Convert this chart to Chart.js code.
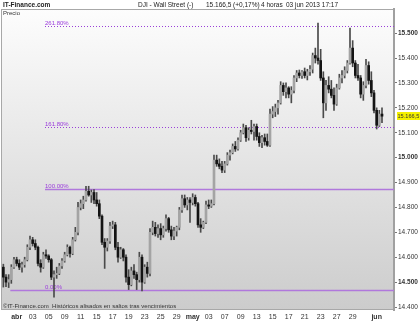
<!DOCTYPE html>
<html>
<head>
<meta charset="utf-8">
<script src="https://cdn.jsdelivr.net/npm/chart.js@4.4.0/dist/chart.umd.min.js"></script>
<style>
  html, body { margin: 0; padding: 0; background: #fff; }
  #wrap { width: 420px; height: 321px; }
</style>
</head>
<body>
<div id="wrap"><canvas id="grafico" width="420" height="321"></canvas></div>
<script>
// dias de cotizacion (el primero solo tiene 2 velas)
const dias = ['27 mar', '28 mar',
  '01 abr', '02 abr', '03 abr', '04 abr', '05 abr', '08 abr', '09 abr', '10 abr', '11 abr', '12 abr',
  '15 abr', '16 abr', '17 abr', '18 abr', '19 abr', '22 abr', '23 abr', '24 abr', '25 abr', '26 abr',
  '29 abr', '30 abr', '01 may', '02 may', '03 may', '06 may', '07 may', '08 may', '09 may', '10 may',
  '13 may', '14 may', '15 may', '16 may', '17 may', '20 may', '21 may', '22 may', '23 may', '24 may',
  '27 may', '28 may', '29 may', '30 may', '31 may', '03 jun'];

// velas de 4 horas
const apertura = [
  14560, 14520,
  14500, 14510, 14560,
  14590, 14575, 14560,  14570, 14590, 14640,  14670, 14655, 14640,  14575, 14560, 14610,  14605, 14590, 14520,
  14530, 14535, 14565,  14585, 14610, 14640,  14615, 14670, 14700,  14800, 14815, 14830,  14865, 14850, 14860,
  14830, 14815, 14765,  14660, 14640, 14665,  14725, 14730, 14640,  14600, 14630, 14600,  14520, 14490, 14545,
  14530, 14510, 14600,  14500, 14560, 14535,  14700, 14720, 14695,  14715, 14690, 14715,  14755, 14710, 14685,
  14705, 14720, 14790,  14835, 14810, 14830,  14820, 14840, 14815,  14730, 14720, 14740,  14810, 14805, 14815,
  14990, 14975, 14965,  14950, 14975, 15010,  15020, 15045, 15035,  15070, 15100, 15120,  15080, 15110, 15105,
  15125, 15085, 15060,  15080, 15065, 15050,  15175, 15185, 15200,  15220, 15290, 15265,  15280, 15255, 15270,
  15320, 15340, 15330,  15345, 15330, 15345,  15355, 15410, 15400,  15390, 15320, 15220,  15290, 15275, 15250,
  15215, 15280, 15320,  15330, 15350, 15380,  15440, 15380, 15330,  15320, 15255, 15290,  15370, 15310, 15260,
  15190, 15130, 15175];
const maximo = [
  14572, 14530,
  14530, 14570, 14600,
  14600, 14590, 14580,  14600, 14650, 14685,  14680, 14670, 14645,  14590, 14620, 14630,  14610, 14595, 14545,
  14560, 14575, 14595,  14620, 14650, 14645,  14680, 14720, 14820,  14830, 14845, 14885,  14885, 14870, 14872,
  14860, 14830, 14770,  14675, 14675, 14740,  14745, 14740, 14660,  14640, 14635, 14610,  14550, 14560, 14570,
  14540, 14620, 14610,  14570, 14580, 14715,  14745, 14740, 14730,  14735, 14725, 14770,  14760, 14725, 14720,
  14725, 14800, 14850,  14850, 14840, 14840,  14855, 14850, 14820,  14755, 14745, 14825,  14830, 14830, 15010,
  15010, 14995, 14985,  14985, 15020, 15030,  15055, 15065, 15080,  15110, 15135, 15130,  15120, 15150, 15135,
  15135, 15100, 15090,  15095, 15095, 15195,  15205, 15215, 15230,  15305, 15300, 15300,  15285, 15285, 15330,
  15350, 15352, 15350,  15360, 15355, 15370,  15420, 15440, 15540,  15435, 15345, 15310,  15325, 15310, 15280,
  15295, 15335, 15350,  15365, 15390, 15520,  15470, 15390, 15375,  15330, 15305, 15395,  15385, 15345, 15270,
  15200, 15190, 15200];
const minimo = [
  14480, 14482,
  14478, 14495, 14555,
  14565, 14550, 14540,  14560, 14585, 14630,  14645, 14630, 14565,  14540, 14555, 14595,  14580, 14510, 14440,
  14515, 14530, 14555,  14580, 14605, 14600,  14610, 14665, 14690,  14790, 14795, 14825,  14845, 14820, 14815,
  14805, 14755, 14650,  14555, 14625, 14655,  14715, 14630, 14580,  14595, 14585, 14500,  14470, 14485, 14515,
  14470, 14500, 14465,  14495, 14520, 14525,  14690, 14685, 14680,  14670, 14680, 14705,  14700, 14670, 14670,
  14685, 14710, 14780,  14800, 14790, 14740,  14810, 14805, 14720,  14700, 14715, 14735,  14795, 14800, 14810,
  14965, 14955, 14940,  14940, 14970, 14990,  15015, 15025, 15030,  15065, 15095, 15065,  15070, 15095, 15070,
  15070, 15045, 15040,  15050, 15045, 15045,  15160, 15165, 15175,  15215, 15250, 15240,  15240, 15220, 15260,
  15305, 15320, 15318,  15320, 15312, 15330,  15340, 15380, 15375,  15310, 15160, 15190,  15260, 15240, 15190,
  15210, 15275, 15300,  15320, 15340, 15375,  15365, 15320, 15310,  15240, 15230, 15280,  15295, 15245, 15180,
  15115, 15125, 15140];
const cierre = [
  14520, 14500,
  14510, 14560, 14590,
  14575, 14560, 14570,  14590, 14640, 14670,  14655, 14640, 14575,  14560, 14610, 14605,  14590, 14520, 14530,
  14535, 14565, 14585,  14610, 14640, 14615,  14670, 14700, 14800,  14815, 14830, 14865,  14850, 14860, 14830,
  14815, 14765, 14660,  14640, 14665, 14725,  14730, 14640, 14600,  14630, 14600, 14520,  14490, 14545, 14530,
  14510, 14600, 14500,  14560, 14535, 14700,  14720, 14695, 14715,  14690, 14715, 14755,  14710, 14685, 14705,
  14720, 14790, 14835,  14810, 14830, 14820,  14840, 14815, 14730,  14720, 14740, 14810,  14805, 14815, 14990,
  14975, 14965, 14950,  14975, 15010, 15020,  15045, 15035, 15070,  15100, 15120, 15080,  15110, 15105, 15125,
  15085, 15060, 15080,  15065, 15050, 15175,  15185, 15200, 15220,  15290, 15265, 15280,  15255, 15270, 15320,
  15340, 15330, 15345,  15330, 15345, 15355,  15410, 15400, 15390,  15320, 15220, 15290,  15275, 15250, 15215,
  15280, 15320, 15330,  15350, 15380, 15440,  15380, 15330, 15320,  15255, 15290, 15370,  15310, 15260, 15190,
  15130, 15175, 15166.5];

// retroceso de Fibonacci
const fibMinimo = 14470;
const fibMaximo = 14874;
const fibNiveles = [0, 100, 161.8, 261.8];
const fibTextos = ['0.00%', '100.00%', '161.80%', '261.80%'];
const fibDesde = [3, 16, 16, 16];
const fibPunteado = [false, false, true, true];

// ejes
const marcasY = [14400, 14500, 14600, 14700, 14800, 14900, 15000, 15100, 15200, 15300, 15400, 15500];
const marcasX = ['01 abr', '03 abr', '05 abr', '09 abr', '11 abr', '15 abr', '17 abr', '19 abr', '23 abr', '25 abr',
  '29 abr', '01 may', '03 may', '07 may', '09 may', '13 may', '15 may', '17 may', '21 may', '23 may', '27 may',
  '29 may', '03 jun'];
const textosX = ['abr', '03', '05', '09', '11', '15', '17', '19', '23', '25', '29', 'may', '03', '07', '09', '13',
  '15', '17', '21', '23', '27', '29', 'jun'];
const meses = ['abr', 'may', 'jun'];
const huecoDerecha = 4;

const FUENTE = "'Liberation Sans', Arial, sans-serif";

function formatoMiles(v, dec) {
  const partes = v.toFixed(dec).split('.');
  const ent = partes[0].replace(/\B(?=(\d{3})+(?!\d))/g, '.');
  return partes.length > 1 ? ent + ',' + partes[1] : ent;
}

// etiquetas de cada vela
const etiquetas = [];
dias.forEach((d, i) => {
  const n = i === 0 ? 2 : 3;
  for (let k = 0; k < n; k++) etiquetas.push(k === 0 ? d : d + ' ' + k);
});
for (let k = 0; k < huecoDerecha; k++) etiquetas.push('vacio ' + k);

const mechas = etiquetas.map((_, i) => i < cierre.length ? [minimo[i], maximo[i]] : null);
const cuerpos = etiquetas.map((_, i) => i < cierre.length ? [apertura[i], cierre[i]] : null);
const coloresCuerpo = etiquetas.map((_, i) => cierre[i] >= apertura[i] ? '#a4a4a4' : '#141414');

const fondoPlugin = {
  id: 'fondo',
  beforeDraw(chart) {
    const { ctx, chartArea: a } = chart;
    ctx.save();
    ctx.fillStyle = '#ffffff';
    ctx.fillRect(0, 0, chart.width, chart.height);
    const g = ctx.createLinearGradient(0, a.top, 0, a.bottom);
    g.addColorStop(0, '#fdfdfd');
    g.addColorStop(1, '#cccccc');
    ctx.fillStyle = g;
    ctx.fillRect(a.left, a.top, a.right - a.left, a.bottom - a.top);
    ctx.strokeStyle = '#a8a8a8';
    ctx.lineWidth = 1;
    ctx.strokeRect(a.left - 0.5, a.top + 0.5, a.right - a.left + 0.5, a.bottom - a.top - 1);
    ctx.restore();
  },
  beforeDatasetsDraw(chart) {
    const { ctx, chartArea: a, scales } = chart;
    ctx.save();
    fibNiveles.forEach((p, i) => {
      const valor = fibMinimo + p / 100 * (fibMaximo - fibMinimo);
      const y = scales.y.getPixelForValue(valor);
      const x0 = scales.x.getPixelForValue(fibDesde[i]) - 1;
      ctx.beginPath();
      if (fibPunteado[i]) {
        ctx.setLineDash([1, 2]);
        ctx.lineWidth = 1;
        ctx.strokeStyle = '#9a3fd8';
      } else {
        ctx.setLineDash([]);
        ctx.lineWidth = 1.6;
        ctx.strokeStyle = '#b078dc';
      }
      ctx.moveTo(x0, Math.round(y) + 0.5);
      ctx.lineTo(a.right, Math.round(y) + 0.5);
      ctx.stroke();
      ctx.setLineDash([]);
      ctx.fillStyle = '#9b3bdc';
      ctx.font = '6px ' + FUENTE;
      ctx.textBaseline = 'bottom';
      ctx.fillText(fibTextos[i], 45, Math.round(y) + 0.5);
    });
    ctx.restore();
  },
  afterDraw(chart) {
    const { ctx, chartArea: a, scales } = chart;
    const ultimo = cierre[cierre.length - 1];
    ctx.save();
    ctx.textBaseline = 'middle';
    ctx.fillStyle = '#222';
    ctx.font = 'bold 6.5px ' + FUENTE;
    ctx.fillText('IT-Finance.com', 3, 5);
    ctx.font = '6.5px ' + FUENTE;
    ctx.fillText('DJI - Wall Street (-)', 138, 5);
    ctx.fillText(formatoMiles(ultimo, 1) + ' (+0,17%)', 206, 5);
    ctx.fillText('4 horas', 261, 5);
    ctx.fillText('03 jun 2013 17:17', 286, 5);
    ctx.font = '6px ' + FUENTE;
    ctx.fillStyle = '#333';
    ctx.fillText('Precio', 3, a.top + 4);
    ctx.fillText('\u00a9IT-Finance.com  Hist\u00f3ricos alisados en saltos tras vencimientos', 3, a.bottom - 4);
    // ultimo precio
    const yp = scales.y.getPixelForValue(ultimo);
    ctx.fillStyle = '#f4f000';
    ctx.fillRect(a.right + 3, Math.round(yp) - 4, 23, 8);
    ctx.fillStyle = '#333';
    ctx.font = '5.6px ' + FUENTE;
    ctx.fillText(formatoMiles(ultimo, 1), a.right + 3.5, Math.round(yp));
    ctx.restore();
  }
};

new Chart(document.getElementById('grafico'), {
  type: 'bar',
  data: {
    labels: etiquetas,
    datasets: [{
      label: 'Rango',
      data: mechas,
      backgroundColor: '#4a4a4a',
      barThickness: 1,
      grouped: false,
      order: 2
    }, {
      label: 'Cuerpo',
      data: cuerpos,
      backgroundColor: coloresCuerpo,
      barThickness: 2,
      minBarLength: 1,
      grouped: false,
      order: 1
    }]
  },
  options: {
    responsive: false,
    animation: false,
    layout: { padding: { left: 2, top: 9, right: 0, bottom: 0 } },
    plugins: {
      legend: { display: false },
      tooltip: { enabled: false }
    },
    scales: {
      x: {
        offset: true,
        afterFit: s => { s.height = 11; },
        grid: { display: false, drawTicks: false },
        border: { display: false },
        ticks: {
          autoSkip: false,
          maxRotation: 0,
          minRotation: 0,
          padding: 3,
          color: '#333',
          font: ctx => ({
            family: FUENTE,
            size: 7,
            weight: ctx.tick && meses.includes(ctx.tick.label) ? 'bold' : 'normal'
          }),
          callback: function (value) {
            const k = marcasX.indexOf(this.getLabelForValue(value));
            return k >= 0 ? textosX[k] : '';
          }
        }
      },
      y: {
        position: 'right',
        min: 14388,
        max: 15597,
        afterFit: s => { s.width = 26; },
        afterBuildTicks: s => { s.ticks = marcasY.map(v => ({ value: v })); },
        grid: { drawOnChartArea: false, tickLength: 3, color: '#777' },
        border: { color: '#a0a0a0', width: 2 },
        ticks: {
          padding: 1,
          color: '#333',
          font: ctx => ({
            family: FUENTE,
            size: 6.5,
            weight: ctx.tick && ctx.tick.value % 500 === 0 ? 'bold' : 'normal'
          }),
          callback: v => formatoMiles(v, 0)
        }
      }
    }
  },
  plugins: [fondoPlugin]
});
</script>
</body>
</html>
